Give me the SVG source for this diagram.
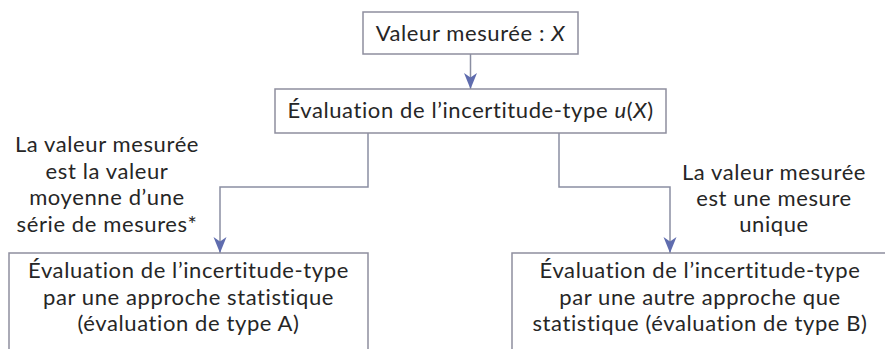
<svg xmlns="http://www.w3.org/2000/svg" width="885" height="349" viewBox="0 0 885 349">
  <style>
    .box { fill: #ffffff; stroke: #8e8e9e; stroke-width: 1.5; }
    .t { font-family: Lato, "Open Sans", sans-serif; font-size: 22px; letter-spacing: 0.6px; font-variant-ligatures: none; fill: #262626; text-anchor: middle; }
    .it { font-style: italic; }
    .conn { fill: none; stroke: #8a8ea2; stroke-width: 1.5; }
  </style>
  <defs>
    <marker id="arrow" markerUnits="userSpaceOnUse" viewBox="0 -7 16 14" markerWidth="16" markerHeight="14" refX="16" refY="0" orient="auto">
      <path d="M0,-6.5 L16,0 L0,6.5 L4.5,0 Z" fill="#5f6cae"/>
    </marker>
  </defs>
  <rect width="885" height="349" fill="#ffffff"/>

  <g id="connectors">
    <path class="conn" d="M470.5,54 V89" marker-end="url(#arrow)"/>
    <path class="conn" d="M368,133 V187 H220 V253" marker-end="url(#arrow)"/>
    <path class="conn" d="M559,133 V187 H670 V253" marker-end="url(#arrow)"/>
  </g>

  <g id="node-valeur">
    <rect class="box" x="363" y="12" width="215" height="42"/>
    <text class="t" x="470.5" y="41">Valeur mesurée : <tspan class="it">X</tspan></text>
  </g>

  <g id="node-evaluation">
    <rect class="box" x="275" y="89" width="391" height="44"/>
    <text class="t" x="470.5" y="118">Évaluation de l’incertitude-type <tspan class="it">u</tspan>(<tspan class="it">X</tspan>)</text>
  </g>

  <g id="label-left">
    <text class="t" x="107" y="152">La valeur mesurée</text>
    <text class="t" x="107" y="178.5">est la valeur</text>
    <text class="t" x="107" y="205">moyenne d’une</text>
    <text class="t" x="107" y="231.5">série de mesures*</text>
  </g>

  <g id="label-right">
    <text class="t" x="774" y="180">La valeur mesurée</text>
    <text class="t" x="774" y="206">est une mesure</text>
    <text class="t" x="774" y="232">unique</text>
  </g>

  <g id="node-typeA">
    <rect class="box" x="9" y="253" width="359" height="130"/>
    <text class="t" x="188.5" y="278">Évaluation de l’incertitude-type</text>
    <text class="t" x="188.5" y="304.5">par une approche statistique</text>
    <text class="t" x="188.5" y="331">(évaluation de type A)</text>
  </g>

  <g id="node-typeB">
    <rect class="box" x="512" y="253" width="388" height="130"/>
    <text class="t" x="700" y="278">Évaluation de l’incertitude-type</text>
    <text class="t" x="700" y="304.5">par une autre approche que</text>
    <text class="t" x="700" y="331">statistique (évaluation de type B)</text>
  </g>
</svg>
